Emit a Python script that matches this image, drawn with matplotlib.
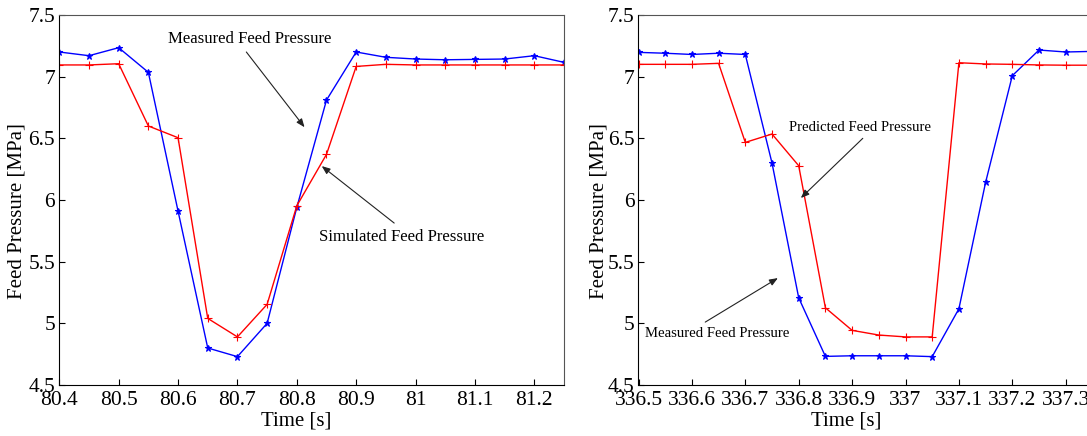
import numpy as np
import matplotlib
matplotlib.use('Agg')
import matplotlib.pyplot as plt
from matplotlib.ticker import FuncFormatter

plt.rcParams['font.family'] = ['Liberation Serif', 'DejaVu Serif']

# left panel: simulated vs measured, time 80.40 .. 81.25 s
t_sim = [80.40, 80.45, 80.50, 80.55, 80.60, 80.65, 80.70, 80.75, 80.80,
         80.85, 80.90, 80.95, 81.00, 81.05, 81.10, 81.15, 81.20, 81.25]
p_meas_1 = [7.20, 7.17, 7.235, 7.035, 5.91, 4.80, 4.73, 5.00, 5.94,
            6.81, 7.20, 7.157, 7.143, 7.137, 7.14, 7.143, 7.17, 7.116]
p_sim_1 = [7.095, 7.095, 7.105, 6.60, 6.505, 5.04, 4.89, 5.154, 5.953,
           6.37, 7.083, 7.10, 7.095, 7.095, 7.095, 7.095, 7.095, 7.095]

# right panel: predicted vs measured, time 336.50 .. 337.35 s
t_pred = [336.50, 336.55, 336.60, 336.65, 336.70, 336.75, 336.80, 336.85,
          336.90, 336.95, 337.00, 337.05, 337.10, 337.15, 337.20, 337.25,
          337.30, 337.35]
p_meas_2 = [7.197, 7.19, 7.18, 7.19, 7.18, 6.30, 5.207, 4.732, 4.737,
            4.737, 4.737, 4.73, 5.118, 6.143, 7.008, 7.216, 7.20, 7.205]
p_pred_2 = [7.10, 7.10, 7.10, 7.108, 6.467, 6.535, 6.278, 5.126, 4.943,
            4.905, 4.89, 4.89, 7.113, 7.103, 7.10, 7.095, 7.093, 7.093]

y_ticks = [4.5, 5, 5.5, 6, 6.5, 7, 7.5]
x_ticks_1 = [80.4, 80.5, 80.6, 80.7, 80.8, 80.9, 81.0, 81.1, 81.2]
x_ticks_2 = [336.5, 336.6, 336.7, 336.8, 336.9, 337.0, 337.1, 337.2, 337.3]

W, H = 1087, 436
fig = plt.figure(figsize=(W / 100, H / 100), dpi=100)
ax1 = fig.add_axes([59.3 / W, 51 / H, 504.7 / W, 370 / H])
ax2 = fig.add_axes([638.5 / W, 51 / H, 480.6 / W, 370 / H])

fmt = FuncFormatter(lambda v, p: '%g' % round(v, 2))


def style_axes(ax, xticks, xlim, xlab_x, ylab_x):
    ax.set_xlim(*xlim)
    ax.set_ylim(4.5, 7.5)
    ax.set_xticks(xticks)
    ax.set_yticks(y_ticks)
    ax.xaxis.set_major_formatter(fmt)
    ax.yaxis.set_major_formatter(fmt)
    ax.tick_params(direction='in', length=4, width=0.8, labelsize=15.5,
                   pad=3, colors='black')
    ax.tick_params(axis='x', pad=4)
    for s in ['left', 'bottom']:
        ax.spines[s].set_color('black')
        ax.spines[s].set_linewidth(0.8)
    for s in ['top', 'right']:
        ax.spines[s].set_color('#555555')
        ax.spines[s].set_linewidth(0.8)
    ax.set_xlabel('Time [s]', fontsize=15)
    ax.set_ylabel('Feed Pressure [MPa]', fontsize=15)
    ax.xaxis.set_label_coords(xlab_x, -0.072)
    ax.yaxis.set_label_coords(ylab_x, 0.47)


def arrow(ax, tail, tip):
    ax.annotate('', xy=tip, xytext=tail,
                arrowprops=dict(arrowstyle='-|>,head_length=0.5,head_width=0.2',
                                color='#222222', lw=0.8, shrinkA=0, shrinkB=0))


ax1.plot(t_sim, p_meas_1, color='blue', lw=1, marker='*', ms=5, mew=0.8)
ax1.plot(t_sim, p_sim_1, color='red', lw=1, marker='+', ms=6, mew=0.8)
style_axes(ax1, x_ticks_1, (80.4, 81.25), 0.469, -0.064)
ax1.text(80.721, 7.305, 'Measured Feed Pressure', fontsize=12.1,
         ha='center', va='center')
arrow(ax1, (80.715, 7.20), (80.813, 6.59))
ax1.text(80.977, 5.70, 'Simulated Feed Pressure', fontsize=12.1,
         ha='center', va='center')
arrow(ax1, (80.964, 5.813), (80.842, 6.275))

ax2.plot(t_pred, p_meas_2, color='blue', lw=1, marker='*', ms=5, mew=0.8)
ax2.plot(t_pred, p_pred_2, color='red', lw=1, marker='+', ms=6, mew=0.8)
style_axes(ax2, x_ticks_2, (336.5, 337.4), 0.432, -0.062)
ax2.text(336.914, 6.584, 'Predicted Feed Pressure', fontsize=10.6,
         ha='center', va='center')
arrow(ax2, (336.920, 6.50), (336.804, 6.016))
ax2.text(336.648, 4.92, 'Measured Feed Pressure', fontsize=10.6,
         ha='center', va='center')
arrow(ax2, (336.625, 5.01), (336.761, 5.367))

fig.savefig('out.png', dpi=100)
